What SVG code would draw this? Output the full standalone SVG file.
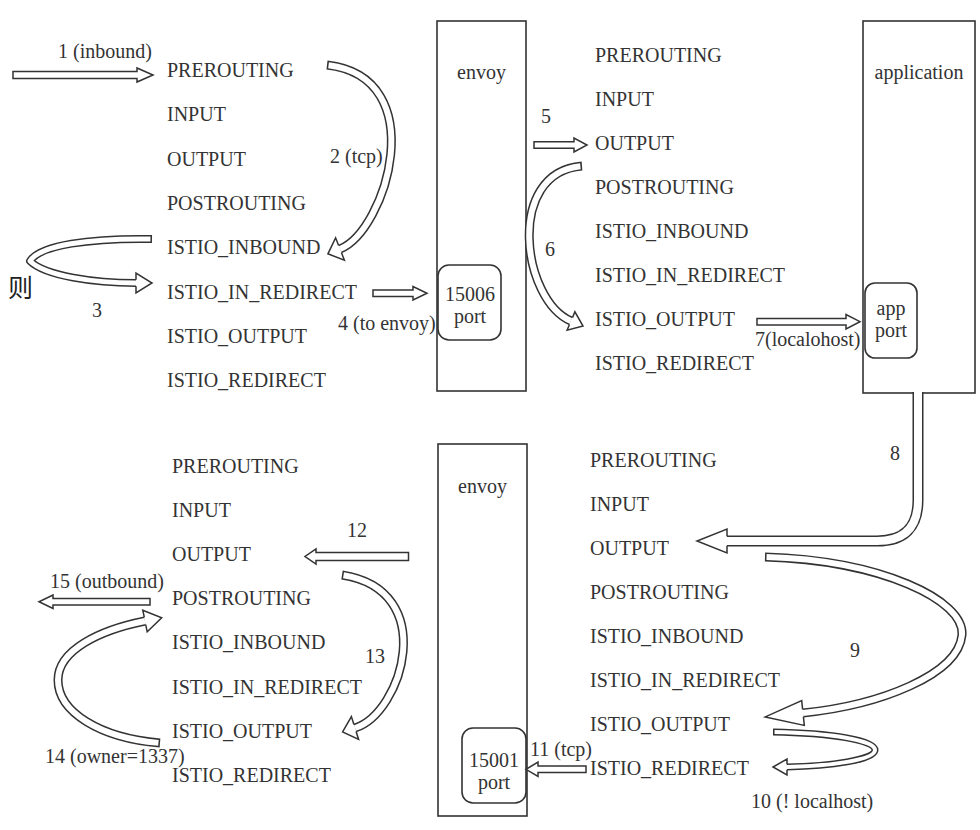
<svg xmlns="http://www.w3.org/2000/svg" width="980" height="830" viewBox="0 0 980 830" font-family="'Liberation Serif', 'DejaVu Serif', serif">
<style>
  text { font-family: 'Liberation Serif', 'DejaVu Serif', serif; font-size: 20px; fill: #333; }
  .m { text-anchor: middle; }
  .cjk { font-family: 'Noto Sans CJK SC', 'Noto Sans CJK JP', sans-serif; font-size: 25px; fill: #222; }
  .box { fill: #fff; stroke: #333; stroke-width: 1.6; }
  .port { fill: #fff; stroke: #333; stroke-width: 1.6; }
  .sa { fill: #fff; stroke: #333; stroke-width: 1.5; stroke-linejoin: miter; }
  .bo { fill: none; stroke: #333; stroke-width: 9; stroke-linejoin: round; }
  .bi { fill: none; stroke: #fff; stroke-width: 6; stroke-linejoin: round; stroke-dasharray: 0 1.5 5000; }
  .bo8 { fill: none; stroke: #333; stroke-width: 8; stroke-linejoin: round; }
  .bi8 { fill: none; stroke: #fff; stroke-width: 5; stroke-linejoin: round; stroke-dasharray: 0 1.5 5000; }
  .bo7 { fill: none; stroke: #333; stroke-width: 7; stroke-linejoin: round; }
  .bi7 { fill: none; stroke: #fff; stroke-width: 4; stroke-linejoin: round; stroke-dasharray: 0 1.5 5000; }
  .bo11 { fill: none; stroke: #333; stroke-width: 11; }
  .bi11 { fill: none; stroke: #fff; stroke-width: 8; }
  .hd { fill: #fff; stroke: #333; stroke-width: 1.5; stroke-linejoin: miter; }
</style>

<rect width="980" height="830" fill="#fff"/>

<!-- top-left chain list -->
<g id="chains-top-left">
  <text x="167" y="77">PREROUTING</text>
  <text x="167" y="121.3">INPUT</text>
  <text x="167" y="165.6">OUTPUT</text>
  <text x="167" y="209.9">POSTROUTING</text>
  <text x="167" y="254.2">ISTIO_INBOUND</text>
  <text x="167" y="298.5">ISTIO_IN_REDIRECT</text>
  <text x="167" y="342.8">ISTIO_OUTPUT</text>
  <text x="167" y="387.1">ISTIO_REDIRECT</text>
</g>

<!-- top-right chain list -->
<g id="chains-top-right">
  <text x="595" y="62">PREROUTING</text>
  <text x="595" y="106">INPUT</text>
  <text x="595" y="150">OUTPUT</text>
  <text x="595" y="194">POSTROUTING</text>
  <text x="595" y="238">ISTIO_INBOUND</text>
  <text x="595" y="282">ISTIO_IN_REDIRECT</text>
  <text x="595" y="326">ISTIO_OUTPUT</text>
  <text x="595" y="370">ISTIO_REDIRECT</text>
</g>

<!-- bottom-left chain list -->
<g id="chains-bottom-left">
  <text x="172" y="472.5">PREROUTING</text>
  <text x="172" y="516.7">INPUT</text>
  <text x="172" y="560.9">OUTPUT</text>
  <text x="172" y="605.1">POSTROUTING</text>
  <text x="172" y="649.3">ISTIO_INBOUND</text>
  <text x="172" y="693.5">ISTIO_IN_REDIRECT</text>
  <text x="172" y="737.7">ISTIO_OUTPUT</text>
  <text x="172" y="781.9">ISTIO_REDIRECT</text>
</g>

<!-- bottom-right chain list -->
<g id="chains-bottom-right">
  <text x="590" y="467">PREROUTING</text>
  <text x="590" y="511">INPUT</text>
  <text x="590" y="555">OUTPUT</text>
  <text x="590" y="599">POSTROUTING</text>
  <text x="590" y="643">ISTIO_INBOUND</text>
  <text x="590" y="687">ISTIO_IN_REDIRECT</text>
  <text x="590" y="731">ISTIO_OUTPUT</text>
  <text x="590" y="775">ISTIO_REDIRECT</text>
</g>

<!-- envoy (inbound) -->
<g id="envoy-top">
  <rect class="box" x="437" y="21" width="89" height="370"/>
  <text class="m" x="481.5" y="79">envoy</text>
  <g id="port-15006">
    <rect class="port" x="438" y="265" width="63" height="75" rx="11"/>
    <text class="m" x="470" y="301">15006</text>
    <text class="m" x="470" y="323">port</text>
  </g>
</g>

<!-- application -->
<g id="application">
  <rect class="box" x="863" y="21" width="112" height="372"/>
  <text class="m" x="919" y="79">application</text>
  <g id="app-port">
    <rect class="port" x="865" y="283" width="52" height="75" rx="10"/>
    <text class="m" x="891" y="315">app</text>
    <text class="m" x="891" y="337">port</text>
  </g>
</g>

<!-- envoy (outbound) -->
<g id="envoy-bottom">
  <rect class="box" x="438" y="444" width="89" height="372"/>
  <text class="m" x="482.5" y="493">envoy</text>
  <g id="port-15001">
    <rect class="port" x="462" y="728" width="64" height="75" rx="11"/>
    <text class="m" x="494" y="767">15001</text>
    <text class="m" x="494" y="789">port</text>
  </g>
</g>

<text class="cjk" x="8" y="297">则</text>

<!-- connectors -->
<g id="connectors">
  <!-- 1 -->
  <polygon class="sa" points="13,71.5 137,71.5 137,68 153,75 137,82 137,78.5 13,78.5"/>
  <!-- 2 -->
  <g>
    <path class="bo" d="M 327 65 C 433 77, 386.5 230.5, 340 249"/>
    <path class="bi" d="M 327 65 C 433 77, 386.5 230.5, 340 249"/>
    <path class="hd" d="M 341.4 252.5 L 344.4 260.2 L 327.9 253.8 L 335.6 237.8 L 338.6 245.5"/>
  </g>
  <!-- 3 -->
  <g>
    <path class="bo8" d="M 152 239 C 90 238, 40 245, 30 261 C 45 276, 95 283, 136 283"/>
    <path class="bi8" d="M 152 239 C 90 238, 40 245, 30 261 C 45 276, 95 283, 136 283"/>
    <path class="hd" d="M 136 286.25 L 136 293 L 152 283 L 136 273 L 136 279.75"/>
  </g>
  <!-- 4 -->
  <polygon class="sa" points="373,290 413,290 413,286.5 427,293.3 413,300 413,296.5 373,296.5"/>
  <!-- 5 -->
  <polygon class="sa" points="534,141.8 574,141.8 574,138 587,145 574,152 574,148.2 534,148.2"/>
  <!-- 6 -->
  <g>
    <path class="bo" d="M 582 166 C 505 172, 522 300, 571 321"/>
    <path class="bi" d="M 582 166 C 505 172, 522 300, 571 321"/>
    <path class="hd" d="M 569.5 324.5 L 567.1 330.2 L 583 326.1 L 574.9 311.8 L 572.5 317.6"/>
  </g>
  <!-- 7 -->
  <polygon class="sa" points="757,318.5 846,318.5 846,314.5 860,321.7 846,329 846,325 757,325"/>
  <!-- 8 -->
  <g>
    <path class="bo11" d="M 918 392 L 918 500 Q 918 541 877 541 L 727 541"/>
    <path class="bi11" d="M 918 391 L 918 500 Q 918 541 877 541 L 727 541"/>
    <path class="hd" d="M 727 545.75 L 727 553 L 697 541 L 727 529 L 727 536.25"/>
  </g>
  <!-- 9 -->
  <g>
    <path class="bo" d="M 765 557 C 880 560, 965 600, 962 635 C 958 675, 880 705, 803 713"/>
    <path class="bi" d="M 765 557 C 880 560, 965 600, 962 635 C 958 675, 880 705, 803 713"/>
    <path class="hd" d="M 803.4 716.7 L 804.3 725.4 L 765.2 716.9 L 801.7 700.6 L 802.6 709.3"/>
  </g>
  <!-- 10 -->
  <g>
    <path class="bo7" d="M 773 732 C 830 733, 875 740, 875 750 C 875 760, 830 766, 787 767"/>
    <path class="bi7" d="M 773 732 C 830 733, 875 740, 875 750 C 875 760, 830 766, 787 767"/>
    <path class="hd" d="M 787 769.75 L 787 775 L 773 767 L 787 759 L 787 764.25"/>
  </g>
  <!-- 11 -->
  <polygon class="sa" points="586,766 538,766 538,762 526,769.3 538,776.5 538,772.5 586,772.5"/>
  <!-- 12 -->
  <polygon class="sa" points="408.5,552.5 316,552.5 316,549 305,556.5 316,564 316,560.5 408.5,560.5"/>
  <!-- 13 -->
  <g>
    <path class="bo" d="M 342 575 C 440 590, 402.5 713, 355 728"/>
    <path class="bi" d="M 342 575 C 440 590, 402.5 713, 355 728"/>
    <path class="hd" d="M 356.1 731.6 L 358.6 739.4 L 342.6 731.9 L 351.4 716.6 L 353.9 724.4"/>
  </g>
  <!-- 14 -->
  <g>
    <path class="bo" d="M 160 743 C 100 738, 58 712, 58 680 C 58 650, 100 630, 145 621"/>
    <path class="bi" d="M 160 743 C 100 738, 58 712, 58 680 C 58 650, 100 630, 145 621"/>
    <path class="hd" d="M 145.7 624.7 L 147.2 631.8 L 161.7 617.7 L 142.8 610.2 L 144.3 617.3"/>
  </g>
  <!-- 15 -->
  <polygon class="sa" points="150,598.5 53,598.5 53,595 39,601.7 53,608.5 53,605 150,605"/>

  <!-- labels -->
  <text x="58" y="58">1 (inbound)</text>
  <text x="330" y="163">2 (tcp)</text>
  <text class="m" x="97" y="317">3</text>
  <text x="338" y="330">4 (to envoy)</text>
  <text class="m" x="546" y="123">5</text>
  <text class="m" x="550" y="256">6</text>
  <text x="755" y="346">7(localohost)</text>
  <text class="m" x="895" y="460">8</text>
  <text class="m" x="855" y="657">9</text>
  <text x="751" y="808">10 (! localhost)</text>
  <text x="530" y="756">11 (tcp)</text>
  <text class="m" x="357" y="537">12</text>
  <text class="m" x="375" y="663">13</text>
  <text x="45" y="763">14 (owner=1337)</text>
  <text x="50" y="588">15 (outbound)</text>
</g>
</svg>
